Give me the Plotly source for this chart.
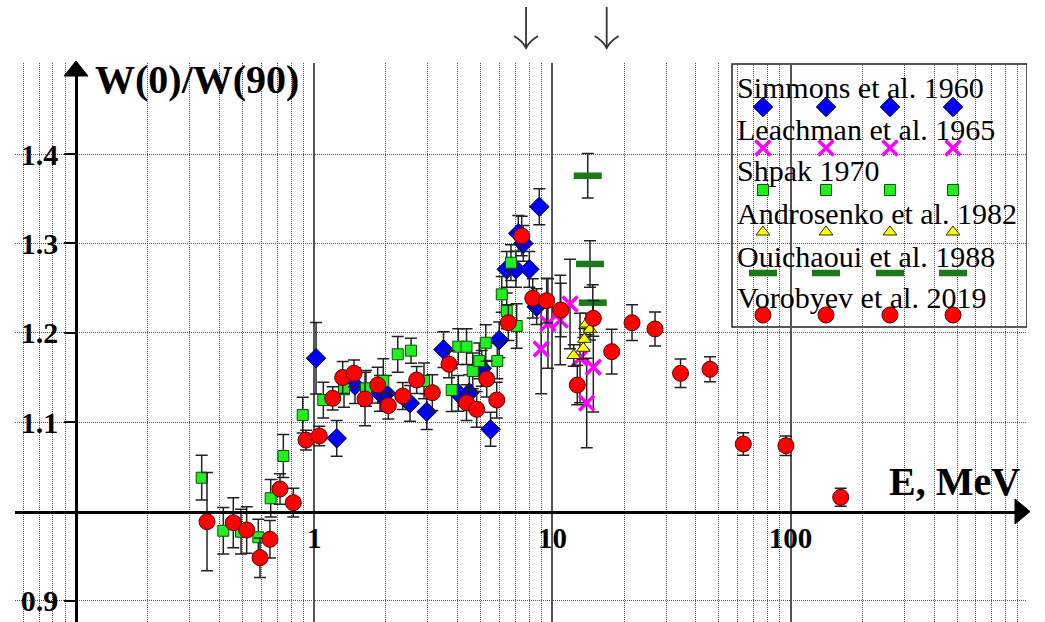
import numpy as np
import plotly.graph_objects as go

# ---------------- data ----------------
# Simmons et al. 1960
sim_E = [1.018, 1.243, 1.483, 1.889, 2.001, 2.524, 2.967, 3.49, 4.027, 4.478,
         5.05, 5.50, 5.98, 6.43, 7.03, 7.19, 7.55, 8.0, 8.59, 8.81]
sim_W = [1.1715, 1.082, 1.141, 1.1323, 1.1323, 1.1211, 1.1117, 1.1813, 1.1323, 1.133,
         1.1603, 1.092, 1.192, 1.271, 1.271, 1.3113, 1.300, 1.271, 1.2292, 1.341]
sim_err = [0.04, 0.02, 0.02, 0.02, 0.02, 0.02, 0.02, 0.02, 0.02, 0.02,
           0.02, 0.019, 0.02, 0.02, 0.02, 0.02, 0.02, 0.02, 0.02, 0.02]

# Leachman et al. 1965
lea_E = [8.97, 9.58, 10.79, 11.86, 13.06, 13.93, 14.85]
lea_W = [1.1819, 1.2104, 1.2143, 1.2322, 1.1718, 1.1215, 1.1614]
lea_err = [0.05, 0.05, 0.05, 0.05, 0.05, 0.05, 0.05]

# Shpak 1970
shp_E = [0.337, 0.4153, 0.4929, 0.5826, 0.6566, 0.742, 0.8949, 1.092, 1.334, 1.65,
         1.95, 2.242, 2.55, 2.89, 3.778, 4.027, 4.36, 4.63, 4.93, 5.25,
         5.87, 6.13, 6.43, 6.70, 7.08]
shp_W = [1.0379, 0.9786, 0.9775, 0.9713, 1.0149, 1.0622, 1.108, 1.1248, 1.1368, 1.1379,
         1.1461, 1.176, 1.18, 1.1461, 1.136, 1.1845, 1.1845, 1.1573, 1.1685, 1.1889,
         1.1685, 1.243, 1.2244, 1.2784, 1.2076]
shp_err = [0.025, 0.026, 0.025, 0.02, 0.021, 0.024, 0.02, 0.02, 0.02, 0.02,
           0.025, 0.02, 0.014, 0.02, 0.024, 0.02, 0.02, 0.02, 0.02, 0.02,
           0.02, 0.02, 0.02, 0.02, 0.025]

# Androsenko et al. 1982
and_E = [12.29, 13.48, 13.61, 13.84, 14.38]
and_W = [1.1746, 1.1827, 1.1927, 1.2098, 1.2039]
and_err = [0.012, 0.012, 0.012, 0.012, 0.012]

# Ouichaoui et al. 1988
oui_E = [14.07, 14.38, 14.77]
oui_W = [1.3757, 1.277, 1.2337]
oui_err = [0.025, 0.026, 0.02]

# Vorobyev et al. 2019
vor_E = [0.3548, 0.4574, 0.5206, 0.5922, 0.652, 0.7185, 0.817, 0.924, 1.05, 1.196,
         1.317, 1.469, 1.634, 1.847, 2.047, 2.353, 2.693, 3.132, 3.681, 4.36,
         4.81, 5.30, 5.84, 6.53, 7.43, 8.27, 9.46, 10.84, 12.72, 14.85,
         17.74, 21.59, 26.96, 34.5, 45.9, 63.3, 95.6, 162.3]
vor_W = [0.9887, 0.9876, 0.9794, 0.9484, 0.969, 1.0253, 1.010, 1.080, 1.0846, 1.1267,
         1.150, 1.1547, 1.126, 1.1416, 1.1185, 1.1293, 1.1472, 1.133, 1.1648, 1.1218,
         1.1144, 1.1483, 1.1248, 1.2113, 1.3083, 1.2386, 1.2359, 1.2255, 1.1416, 1.2162,
         1.1789, 1.2113, 1.2043, 1.1547, 1.1592, 1.0756, 1.0737, 1.016]
vor_err = [0.055, 0.028, 0.026, 0.022, 0.021, 0.017, 0.016, 0.011, 0.011, 0.013,
           0.018, 0.015, 0.03, 0.02, 0.015, 0.015, 0.015, 0.02, 0.015, 0.02,
           0.02, 0.02, 0.02, 0.02, 0.022, 0.022, 0.025, 0.03, 0.022, 0.02,
           0.025, 0.02, 0.019, 0.016, 0.014, 0.0125, 0.011, 0.01]

series_names = ["Simmons et al. 1960", "Leachman et al. 1965", "Shpak 1970",
                "Androsenko et al. 1982", "Ouichaoui et al. 1988", "Vorobyev et al. 2019"]

x_major = [1, 10, 100]
x_major_text = ["1", "10", "100"]
x_minor = [0.06, 0.07, 0.08, 0.09, 0.2, 0.3, 0.4, 0.5, 0.6, 0.7, 0.8, 0.9,
           2, 3, 4, 5, 6, 7, 8, 9, 20, 30, 40, 50, 60, 70, 80, 90,
           200, 300, 400, 500, 600, 700, 800, 900]
y_ticks = [0.9, 1.1, 1.2, 1.3, 1.4]
y_ticktext = ["0.9", "1.1", "1.2", "1.3", "1.4"]
arrow_E = [7.75, 16.9]   # energies marked by the arrows above the plot

# ---------------- styles ----------------
SERIF = "Liberation Serif, Times New Roman, serif"
styles = [
    dict(symbol="diamond", size=15, color="#0000ee", line=dict(color="#00005a", width=1)),
    dict(symbol="x-thin", size=15, color="#ff00ff", line=dict(color="#ff00ff", width=3.5)),
    dict(symbol="square", size=11, color="#22ee22", line=dict(color="#005500", width=1)),
    dict(symbol="triangle-up", size=12, color="#ffff00", line=dict(color="#333300", width=1)),
    dict(symbol="line-ew", size=20, color="#1a7a1a", line=dict(color="#1a7a1a", width=6.5)),
    dict(symbol="circle", size=16, color="#ff0000", line=dict(color="#5a0000", width=1)),
]
datasets = [(sim_E, sim_W, sim_err), (lea_E, lea_W, lea_err), (shp_E, shp_W, shp_err),
            (and_E, and_W, and_err), (oui_E, oui_W, oui_err), (vor_E, vor_W, vor_err)]

fig = go.Figure()
for (E, W, err), st, name in zip(datasets, styles, series_names):
    fig.add_trace(go.Scatter(
        x=E, y=W, mode="markers", name=name, showlegend=False,
        marker=st,
        error_y=dict(type="data", array=err, color="#222222", thickness=1.5, width=6),
    ))

# ---------------- custom legend (overlay axes, 0..1 space) ----------------
leg_cols = [0.7391, 0.8014, 0.8646, 0.9269]
leg_text_y = [0.9553, 0.8819, 0.8068, 0.7299, 0.6547, 0.5805]
leg_mark_y = [0.9213, 0.8479, 0.7728, 0.6977, 0.6243, 0.5492]
for st, name, ym in zip(styles, series_names, leg_mark_y):
    fig.add_trace(go.Scatter(
        x=leg_cols, y=[ym] * len(leg_cols), mode="markers", marker=st,
        xaxis="x3", yaxis="y3", showlegend=False, hoverinfo="skip"))

x_range = [-1.2561, 2.9924]
y_range = [0.8765, 1.5018]
x_axis_pos = (1.0 - y_range[0]) / (y_range[1] - y_range[0])
y_axis_pos = (np.log10(0.1) - x_range[0]) / (x_range[1] - x_range[0])

fig.update_layout(
    width=1045, height=622,
    margin=dict(l=15, r=18, t=63, b=0),
    paper_bgcolor="white", plot_bgcolor="white",
    showlegend=False,
    xaxis=dict(
        type="log", range=x_range, domain=[0, 1], anchor="free", position=x_axis_pos,
        showline=True, linecolor="black", linewidth=2.5,
        tickvals=x_major, ticktext=x_major_text, ticks="",
        tickfont=dict(family=SERIF, size=29, color="black", weight="bold"),
        ticklabelstandoff=0,
        showgrid=True, gridcolor="#555555", gridwidth=1.5,
        minor=dict(tickvals=x_minor, showgrid=True, gridcolor="#555555",
                   griddash="1px,1px", gridwidth=1, ticks=""),
        zeroline=False, automargin=False, fixedrange=True,
    ),
    yaxis=dict(
        range=y_range, domain=[0, 1], anchor="free", position=y_axis_pos,
        showline=True, linecolor="black", linewidth=2.5,
        tickvals=y_ticks, ticktext=y_ticktext, ticks="outside", ticklen=11,
        tickwidth=2, tickcolor="black",
        tickfont=dict(family=SERIF, size=30, color="black", weight="bold"),
        showgrid=True, gridcolor="#555555", griddash="1px,1px", gridwidth=1,
        zeroline=False, automargin=False, fixedrange=True,
    ),
    xaxis3=dict(overlaying="x", anchor="y3", range=[0, 1], visible=False, fixedrange=True),
    yaxis3=dict(overlaying="y", anchor="x3", range=[0, 1], visible=False, fixedrange=True),
)

# legend box
fig.add_shape(type="rect", xref="x3", yref="y3", x0=0.7085, x1=1.0, y0=0.5277, y1=0.9982,
              fillcolor="white", line=dict(color="#222222", width=1.5), layer="below")
for name, yt in zip(series_names, leg_text_y):
    fig.add_annotation(text=name, xref="paper", yref="paper", x=0.7115, y=yt,
                       xanchor="left", yanchor="middle", showarrow=False,
                       font=dict(family=SERIF, size=30, color="black"))

# axis arrowheads (paper coordinates)
def px2paper(px, py):
    return (px - 15) / 1012, (622 - py) / 559

tip = px2paper(76, 61); bl = px2paper(64, 76); br = px2paper(88, 76)
fig.add_shape(type="path", xref="paper", yref="paper",
              path=f"M {tip[0]} {tip[1]} L {bl[0]} {bl[1]} L {br[0]} {br[1]} Z",
              fillcolor="black", line=dict(color="black", width=1), layer="above")
tip = px2paper(1030, 511.6); bt = px2paper(1015, 499); bb = px2paper(1015, 524)
fig.add_shape(type="path", xref="paper", yref="paper",
              path=f"M {tip[0]} {tip[1]} L {bt[0]} {bt[1]} L {bb[0]} {bb[1]} Z",
              fillcolor="black", line=dict(color="black", width=1), layer="above")

# axis titles
fig.add_annotation(text="W(0)/W(90)", xref="paper", yref="paper", x=0.0771, y=0.9696,
                   xanchor="left", yanchor="middle", showarrow=False,
                   font=dict(family=SERIF, size=40, color="black", weight="bold"))
fig.add_annotation(text="E, MeV", xref="paper", yref="paper", x=0.995, y=0.2522,
                   xanchor="right", yanchor="middle", showarrow=False,
                   font=dict(family=SERIF, size=40, color="black", weight="bold"))

# downward arrows above the plot, placed at arrow_E via the x-axis range
dx = 12 / 1012
for e in arrow_E:
    xp = (np.log10(e) - x_range[0]) / (x_range[1] - x_range[0])
    y_top = (622 - 7) / 559
    y_tip = (622 - 48) / 559
    y_wing = (622 - 36) / 559
    y_mid = (622 - 41) / 559
    fig.add_shape(type="line", xref="paper", yref="paper", x0=xp, x1=xp, y0=y_top, y1=y_tip,
                  line=dict(color="#333333", width=1.8), layer="above")
    fig.add_shape(type="path", xref="paper", yref="paper",
                  path=(f"M {xp - dx} {y_wing} Q {xp - dx * 0.3} {y_mid} {xp} {y_tip} "
                        f"Q {xp + dx * 0.3} {y_mid} {xp + dx} {y_wing}"),
                  line=dict(color="#333333", width=1.8), layer="above")

fig.write_html("out.html")
